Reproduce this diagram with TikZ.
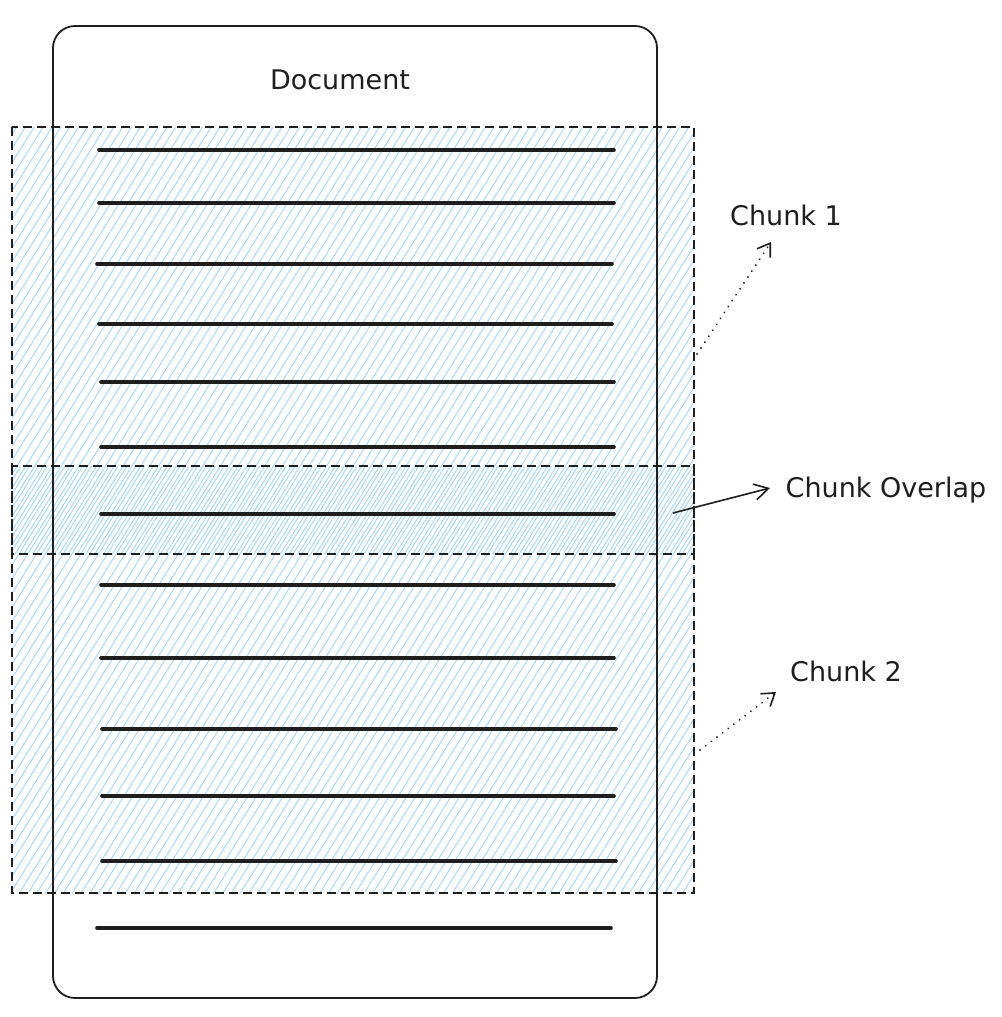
\documentclass[tikz,border=0pt]{standalone}
\usepackage{fontspec}
\setmainfont{DejaVu Sans}
\usetikzlibrary{patterns.meta,arrows.meta}
\definecolor{ink}{HTML}{1E1E1E}
\definecolor{hatch}{HTML}{A5D8FF}
\tikzset{
  docbox/.style={draw=ink, line width=1.8pt, rounded corners=22pt},
  chunkbox/.style={draw=ink, line width=1.8pt, dash pattern=on 9pt off 5pt},
  textline/.style={draw=ink, line width=3.6pt, line cap=round},
  lbl/.style={font=\fontsize{27}{31}\selectfont, text=ink, inner sep=0pt},
  dotarrow/.style={draw=ink, line width=2pt, dash pattern=on 0.1pt off 7pt, line cap=round, -{Straight Barb[length=12pt,width=16pt,line width=1.6pt]}},
  solidarrow/.style={draw=ink, line width=1.6pt, -{Straight Barb[length=14pt,width=16pt,line width=1.6pt]}}
}
\begin{document}
\begin{tikzpicture}[x=1pt,y=-1pt]
\useasboundingbox (0,0) rectangle (1001,1017);
% chunk fills
\fill[pattern={Lines[angle=58,distance=7.5pt,line width=1pt]}, pattern color=hatch] (12,127) rectangle (694,554);
\fill[pattern={Lines[angle=58,distance=7.5pt,line width=1pt,xshift=3.7pt]}, pattern color=hatch] (12,466) rectangle (694,893);
% document
\draw[docbox] (53,26) rectangle (657,998);
\node[lbl] (doc) at (340,80) {Document};
% text lines
\foreach \y/\a/\b [count=\i] in {150/99/614, 203/99/614, 264/97/612, 324/99/612, 382/101/614, 447/101/614, 514/101/614, 585/101/614, 658/101/614, 729/102/616, 796/102/614, 861/102/616, 928/97/611} {
  \draw[textline] (\a,\y) -- (\b,\y);
}
% chunk borders
\draw[chunkbox] (12,127) rectangle (694,554);
\draw[chunkbox] (12,466) rectangle (694,893);
% labels
\node[lbl] (c1) at (786,215) {Chunk 1};
\node[lbl] (co) at (886,490) {Chunk Overlap};
\node[lbl] (c2) at (846,671) {Chunk 2};
\coordinate (s1) at (697,354);
\coordinate (so) at (673,513);
\coordinate (s2) at (700,750);
\coordinate (e1) at (771,242);
\coordinate (eo) at (770,488);
\coordinate (e2) at (776,692);
\draw[dotarrow] (s1) -- (e1);
\draw[solidarrow] (so) -- (eo);
\draw[dotarrow] (s2) -- (e2);
\end{tikzpicture}
\end{document}
